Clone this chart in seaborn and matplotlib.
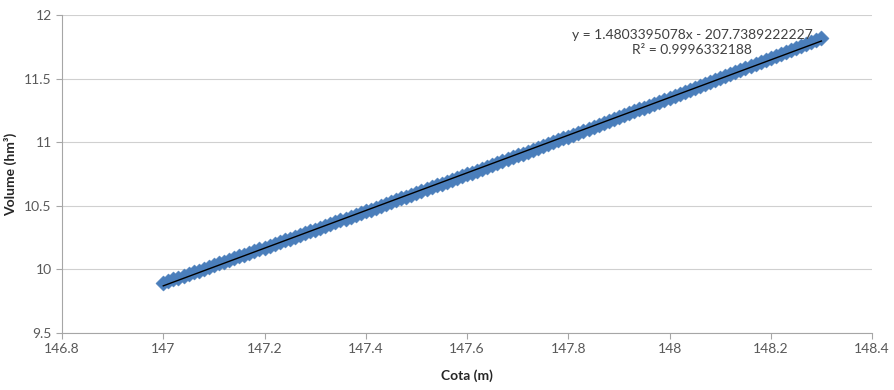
import numpy as np
import matplotlib
matplotlib.use("Agg")
import matplotlib.pyplot as plt
import seaborn as sb
import pandas as pd

# DATA
#-----------------------
cota = [147.00, 147.01, 147.02, 147.03, 147.04, 147.05, 147.06, 147.07, 147.08, 147.09,
        147.10, 147.11, 147.12, 147.13, 147.14, 147.15, 147.16, 147.17, 147.18, 147.19,
        147.20, 147.21, 147.22, 147.23, 147.24, 147.25, 147.26, 147.27, 147.28, 147.29,
        147.30, 147.31, 147.32, 147.33, 147.34, 147.35, 147.36, 147.37, 147.38, 147.39,
        147.40, 147.41, 147.42, 147.43, 147.44, 147.45, 147.46, 147.47, 147.48, 147.49,
        147.50, 147.51, 147.52, 147.53, 147.54, 147.55, 147.56, 147.57, 147.58, 147.59,
        147.60, 147.61, 147.62, 147.63, 147.64, 147.65, 147.66, 147.67, 147.68, 147.69,
        147.70, 147.71, 147.72, 147.73, 147.74, 147.75, 147.76, 147.77, 147.78, 147.79,
        147.80, 147.81, 147.82, 147.83, 147.84, 147.85, 147.86, 147.87, 147.88, 147.89,
        147.90, 147.91, 147.92, 147.93, 147.94, 147.95, 147.96, 147.97, 147.98, 147.99,
        148.00, 148.01, 148.02, 148.03, 148.04, 148.05, 148.06, 148.07, 148.08, 148.09,
        148.10, 148.11, 148.12, 148.13, 148.14, 148.15, 148.16, 148.17, 148.18, 148.19,
        148.20, 148.21, 148.22, 148.23, 148.24, 148.25, 148.26, 148.27, 148.28, 148.29,
        148.30]

volume = [9.895, 9.908, 9.922, 9.936, 9.950, 9.963, 9.977, 9.991, 10.005, 10.019,
          10.033, 10.047, 10.060, 10.074, 10.088, 10.102, 10.116, 10.130, 10.144, 10.158,
          10.172, 10.186, 10.200, 10.214, 10.229, 10.243, 10.257, 10.271, 10.285, 10.299,
          10.314, 10.328, 10.342, 10.356, 10.371, 10.385, 10.399, 10.413, 10.428, 10.442,
          10.457, 10.471, 10.485, 10.500, 10.514, 10.529, 10.543, 10.558, 10.572, 10.587,
          10.601, 10.616, 10.630, 10.645, 10.660, 10.674, 10.689, 10.703, 10.718, 10.733,
          10.748, 10.762, 10.777, 10.792, 10.807, 10.821, 10.836, 10.851, 10.866, 10.881,
          10.896, 10.910, 10.925, 10.940, 10.955, 10.970, 10.985, 11.000, 11.015, 11.030,
          11.045, 11.060, 11.075, 11.091, 11.106, 11.121, 11.136, 11.151, 11.166, 11.181,
          11.197, 11.212, 11.227, 11.242, 11.258, 11.273, 11.288, 11.304, 11.319, 11.334,
          11.350, 11.365, 11.381, 11.396, 11.411, 11.427, 11.442, 11.458, 11.473, 11.489,
          11.505, 11.520, 11.536, 11.551, 11.567, 11.583, 11.598, 11.614, 11.630, 11.645,
          11.661, 11.677, 11.692, 11.708, 11.724, 11.740, 11.756, 11.771, 11.787, 11.803,
          11.819]

x_ticks = [146.8, 147, 147.2, 147.4, 147.6, 147.8, 148, 148.2, 148.4]
x_tick_labels = ["146.8", "147", "147.2", "147.4", "147.6", "147.8", "148", "148.2", "148.4"]
y_ticks = [9.5, 10, 10.5, 11, 11.5, 12]
y_tick_labels = ["9.5", "10", "10.5", "11", "11.5", "12"]

eq_text = "y = 1.4803395078x - 207.7389222227"
r2_text = "R² = 0.9996332188"

# PLOT
#-----------------------
def main():
    df = pd.DataFrame({"cota": cota, "volume": volume})
    plt.rcParams["font.family"] = ["Lato", "DejaVu Sans"]

    fig = plt.figure(figsize=(8.94, 3.9), dpi=100)
    ax = fig.add_axes([0.0694, 0.146, 0.906, 0.8155])

    sb.scatterplot(data=df, x="cota", y="volume", marker="D", s=60,
                   color="#4a7ebb", edgecolor="#4a7ebb", linewidth=0.3, ax=ax, zorder=3)
    sb.regplot(data=df, x="cota", y="volume", scatter=False, ci=None, ax=ax,
               line_kws={"color": "black", "lw": 1.0, "zorder": 4})

    ax.set_xlim(146.8, 148.4)
    ax.set_ylim(9.5, 12)
    ax.set_xticks(x_ticks)
    ax.set_xticklabels(x_tick_labels)
    ax.set_yticks(y_ticks)
    ax.set_yticklabels(y_tick_labels)
    ax.tick_params(axis="both", colors="#a6a6a6", labelcolor="#595959", labelsize=10,
                   length=4, width=0.8)
    ax.grid(axis="y", color="#d0d0d0", lw=0.8)
    ax.set_axisbelow(True)
    for side in ["top", "right"]:
        ax.spines[side].set_visible(False)
    for side in ["left", "bottom"]:
        ax.spines[side].set_color("#a6a6a6")
        ax.spines[side].set_linewidth(0.8)

    ax.set_xlabel("Cota (m)", fontsize=10, fontweight="bold", color="#262626", labelpad=10)
    ax.set_ylabel("Volume (hm³)", fontsize=10, fontweight="bold", color="#262626", labelpad=5)

    ax.text(148.045, 11.843, eq_text, ha="center", va="center", fontsize=10, color="#404040", zorder=5)
    ax.text(148.045, 11.725, r2_text, ha="center", va="center", fontsize=10, color="#404040", zorder=5)

    fig.savefig("out.png", dpi=100)

if __name__ == "__main__":
    main()
